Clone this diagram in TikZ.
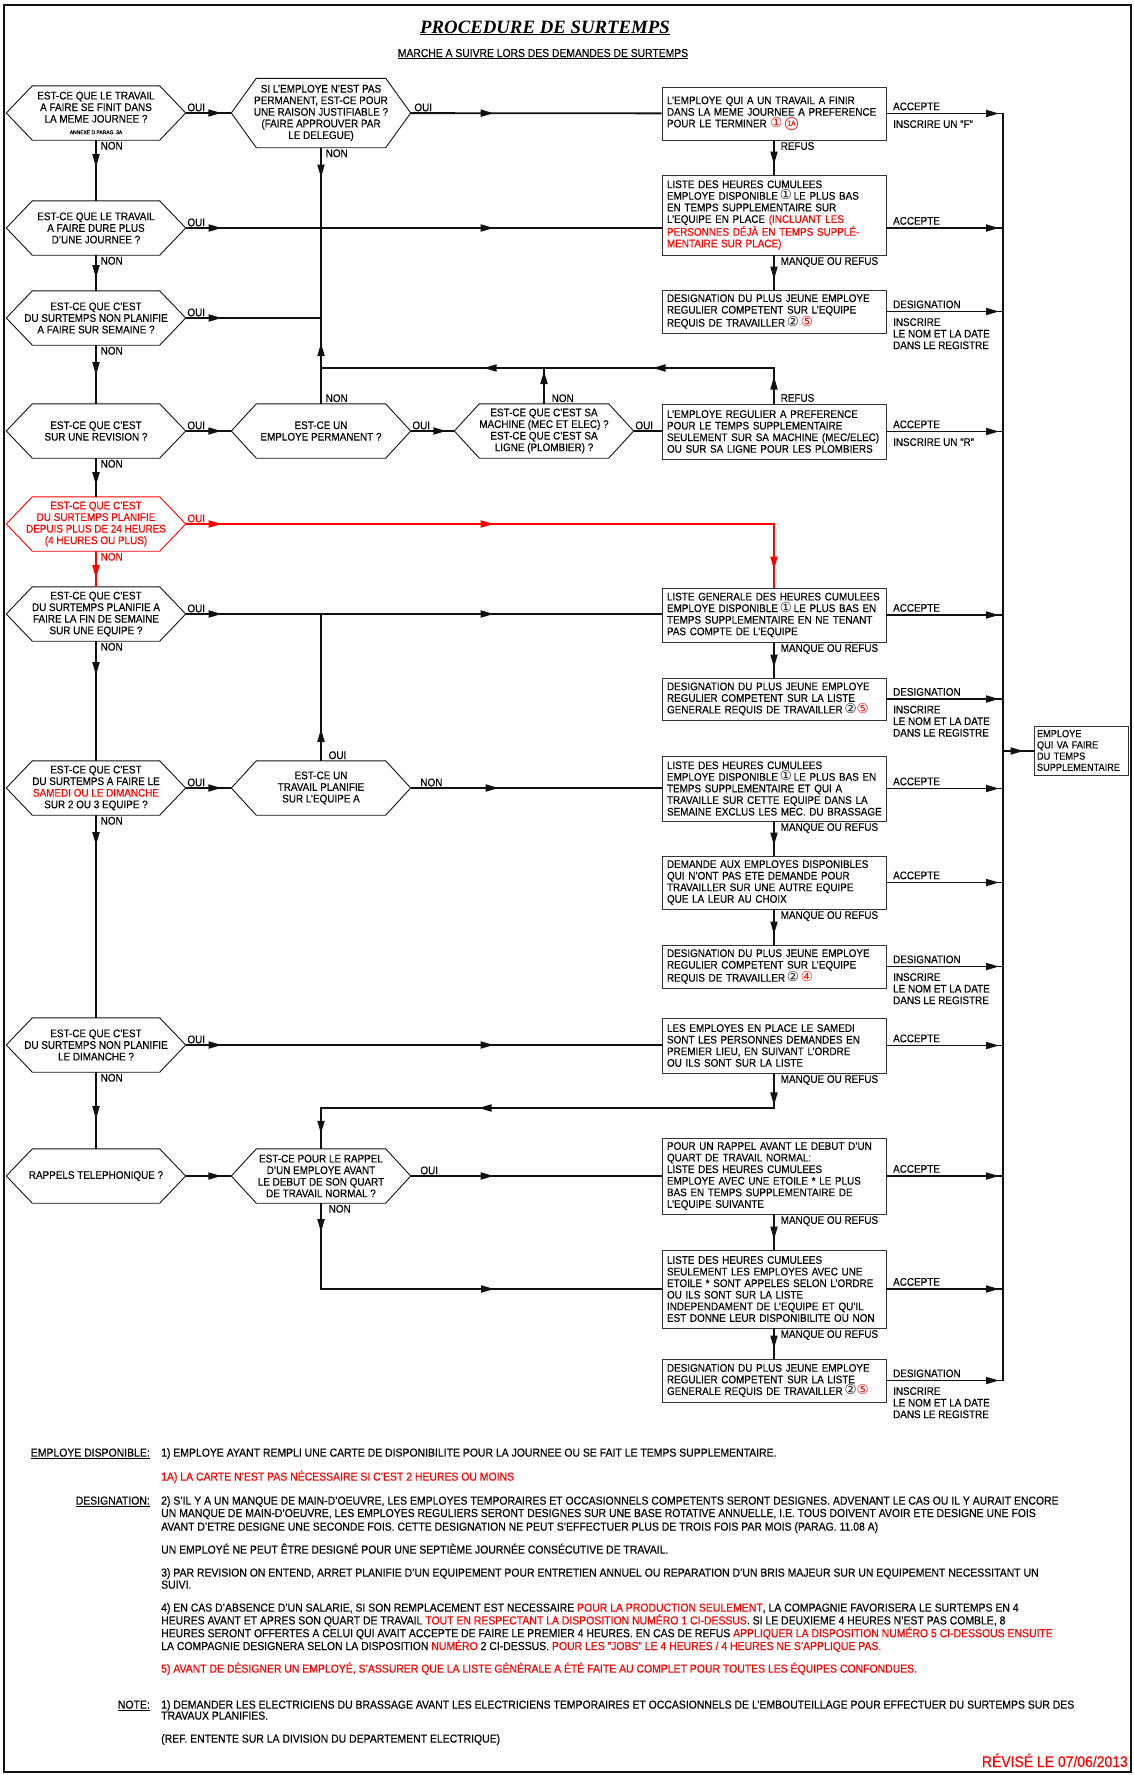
\documentclass[tikz,border=0pt]{standalone}
\usepackage{fontspec}
\setmainfont[FakeStretch=0.9,FakeBold=0.3]{Liberation Sans}
\newfontfamily\titleserif{Liberation Serif}
\newfontfamily\symfont{DejaVu Sans}
\usepackage{tikz}
\usetikzlibrary{arrows.meta,decorations.markings}
\definecolor{ink}{HTML}{111111}
\definecolor{graphite}{HTML}{333333}
\definecolor{alert}{HTML}{FF0000}
\newcommand{\cadsize}{\fontsize{11}{11.6}\selectfont}
\newcommand{\notesize}{\fontsize{11.6}{12.6}\selectfont}
\newcommand{\cnum}[2]{{\color{#1}\symfont\fontsize{13.5}{12}\selectfont #2}}
\newcommand{\cnumA}{{\color{alert}\ooalign{\hfil\raisebox{1.8pt}{\fontsize{7}{7}\selectfont 1A}\hfil\crcr{\symfont\fontsize{13}{12}\selectfont ◯}}}}
\newcommand{\hexa}[3][ink]{\draw[hexline,#1] (#2.west) -- ([xshift=#3]#2.north west) -- ([xshift=-#3]#2.north east) -- (#2.east) -- ([xshift=-#3]#2.south east) -- ([xshift=#3]#2.south west) -- cycle;}

\begin{document}
\begin{tikzpicture}[x=1pt,y=-1pt,
    quest/.style={minimum width=179pt,minimum height=54pt,inner sep=0pt,align=center,font=\cadsize},
    hexline/.style={line width=0.9pt},
    box/.style={draw=graphite,line width=0.9pt,minimum width=224pt,text width=214pt,inner xsep=5pt,inner ysep=1pt,align=left,font=\cadsize},
    lbl/.style={font=\cadsize,inner sep=1.5pt},
    note/.style={font=\notesize,inner sep=0pt,anchor=base west},
    head/.style={font=\notesize,inner sep=0pt,anchor=base east},
    arr/.style={ink,line width=1.8pt},
    tip at/.style={postaction={decorate,decoration={markings,mark=at position #1 with {\arrow{Triangle[length=13pt,width=7pt]}}}}}]
  \useasboundingbox (0,0) rectangle (1134,1775);
  \draw[ink,line width=2.6pt] (4,5) rectangle (1131,1772);

  \node[anchor=base] (title) at (545,33) {\titleserif\bfseries\itshape\fontsize{18.8}{20}\selectfont\underline{PROCEDURE DE SURTEMPS}};
  \node[anchor=base] (sub) at (543,57) {\fontsize{11.5}{12}\selectfont\underline{MARCHE A SUIVRE LORS DES DEMANDES DE SURTEMPS}};

  \node[quest] (d1) at (96,113) {EST-CE QUE LE TRAVAIL\\A FAIRE SE FINIT DANS\\LA MEME JOURNEE ?\\{\fontsize{5.5}{7}\selectfont ANNEXE D PARAG. 3A}};
  \node[quest] (d2) at (96,228) {EST-CE QUE LE TRAVAIL\\A FAIRE DURE PLUS\\D'UNE JOURNEE ?};
  \node[quest] (d3) at (96,318) {EST-CE QUE C'EST\\DU SURTEMPS NON PLANIFIE\\A FAIRE SUR SEMAINE ?};
  \node[quest] (d4) at (96,431) {EST-CE QUE C'EST\\SUR UNE REVISION ?};
  \node[quest,text=alert] (d5) at (96,524) {EST-CE QUE C'EST\\DU SURTEMPS PLANIFIE\\DEPUIS PLUS DE 24 HEURES\\(4 HEURES OU PLUS)};
  \node[quest] (d6) at (96,614) {EST-CE QUE C'EST\\DU SURTEMPS PLANIFIE A\\FAIRE LA FIN DE SEMAINE\\SUR UNE EQUIPE ?};
  \node[quest] (d7) at (96,788) {EST-CE QUE C'EST\\DU SURTEMPS A FAIRE LE\\\textcolor{alert}{SAMEDI OU LE DIMANCHE}\\SUR 2 OU 3 EQUIPE ?};
  \node[quest] (d8) at (96,1045) {EST-CE QUE C'EST\\DU SURTEMPS NON PLANIFIE\\LE DIMANCHE ?};
  \node[quest] (d9) at (96,1176) {RAPPELS TELEPHONIQUE ?};
  \node[quest,minimum height=69pt] (c1) at (321,113) {SI L'EMPLOYE N'EST PAS\\PERMANENT, EST-CE POUR\\UNE RAISON JUSTIFIABLE ?\\(FAIRE APPROUVER PAR\\LE DELEGUE)};
  \node[quest] (c2) at (321,431) {EST-CE UN\\EMPLOYE PERMANENT ?};
  \node[quest] (c3) at (321,788) {EST-CE UN\\TRAVAIL PLANIFIE\\SUR L'EQUIPE A};
  \node[quest] (c4) at (321,1176) {EST-CE POUR LE RAPPEL\\D'UN EMPLOYE AVANT\\LE DEBUT DE SON QUART\\DE TRAVAIL NORMAL ?};
  \node[quest] (mach) at (544,431) {EST-CE QUE C'EST SA\\MACHINE (MEC ET ELEC) ?\\EST-CE QUE C'EST SA\\LIGNE (PLOMBIER) ?};
  \hexa{d1}{26pt}
  \hexa{d2}{26pt}
  \hexa{d3}{26pt}
  \hexa{d4}{26pt}
  \hexa[alert]{d5}{26pt}
  \hexa{d6}{26pt}
  \hexa{d7}{26pt}
  \hexa{d8}{26pt}
  \hexa{d9}{26pt}
  \hexa{c1}{25pt}
  \hexa{c2}{25pt}
  \hexa{c3}{25pt}
  \hexa{c4}{25pt}
  \hexa{mach}{25pt}

  \node[box,minimum height=53pt] (b1) at (774,113.5) {L'EMPLOYE QUI A UN TRAVAIL A FINIR\\DANS LA MEME JOURNEE A PREFERENCE\\POUR LE TERMINER \cnum{alert}{①}\,\cnumA};
  \node[box,minimum height=80pt] (b2) at (774,215) {LISTE DES HEURES CUMULEES\\EMPLOYE DISPONIBLE\,\cnum{ink}{①}\,LE PLUS BAS\\EN TEMPS SUPPLEMENTAIRE SUR\\L'EQUIPE EN PLACE \textcolor{alert}{(INCLUANT LES}\\\textcolor{alert}{PERSONNES DÉJÀ EN TEMPS SUPPLÉ-}\\\textcolor{alert}{MENTAIRE SUR PLACE)}};
  \node[box,minimum height=43pt] (b3) at (774,311.5) {DESIGNATION DU PLUS JEUNE EMPLOYE\\REGULIER COMPETENT SUR L'EQUIPE\\REQUIS DE TRAVAILLER\,\cnum{ink}{②}\,\cnum{alert}{⑤}};
  \node[box,minimum height=55pt] (b4) at (774,431.5) {L'EMPLOYE REGULIER A PREFERENCE\\POUR LE TEMPS SUPPLEMENTAIRE\\SEULEMENT SUR SA MACHINE (MEC/ELEC)\\OU SUR SA LIGNE POUR LES PLOMBIERS};
  \node[box,minimum height=54pt] (b5) at (774,615) {LISTE GENERALE DES HEURES CUMULEES\\EMPLOYE DISPONIBLE\,\cnum{ink}{①}\,LE PLUS BAS EN\\TEMPS SUPPLEMENTAIRE EN NE TENANT\\PAS COMPTE DE L'EQUIPE};
  \node[box,minimum height=42pt] (b6) at (774,699) {DESIGNATION DU PLUS JEUNE EMPLOYE\\REGULIER COMPETENT SUR LA LISTE\\GENERALE REQUIS DE TRAVAILLER\,\cnum{ink}{②}\cnum{alert}{⑤}};
  \node[box,minimum height=65pt] (b7) at (774,788.5) {LISTE DES HEURES CUMULEES\\EMPLOYE DISPONIBLE\,\cnum{ink}{①}\,LE PLUS BAS EN\\TEMPS SUPPLEMENTAIRE ET QUI A\\TRAVAILLE SUR CETTE EQUIPE DANS LA\\\mbox{SEMAINE EXCLUS LES MEC. DU BRASSAGE}};
  \node[box,minimum height=53pt] (b8) at (774,882.5) {DEMANDE AUX EMPLOYES DISPONIBLES\\QUI N'ONT PAS ETE DEMANDE POUR\\TRAVAILLER SUR UNE AUTRE EQUIPE\\QUE LA LEUR AU CHOIX};
  \node[box,minimum height=43pt] (b9) at (774,966.5) {DESIGNATION DU PLUS JEUNE EMPLOYE\\REGULIER COMPETENT SUR L'EQUIPE\\REQUIS DE TRAVAILLER\,\cnum{ink}{②}\,\cnum{alert}{④}};
  \node[box,minimum height=55pt] (b10) at (774,1045.5) {LES EMPLOYES EN PLACE LE SAMEDI\\SONT LES PERSONNES DEMANDES EN\\PREMIER LIEU, EN SUIVANT L'ORDRE\\OU ILS SONT SUR LA LISTE};
  \node[box,minimum height=76pt] (b11) at (774,1176) {POUR UN RAPPEL AVANT LE DEBUT D'UN\\QUART DE TRAVAIL NORMAL:\\LISTE DES HEURES CUMULEES\\EMPLOYE AVEC UNE ETOILE * LE PLUS\\BAS EN TEMPS SUPPLEMENTAIRE DE\\L'EQUIPE SUIVANTE};
  \node[box,minimum height=78pt] (b12) at (774,1289) {LISTE DES HEURES CUMULEES\\SEULEMENT LES EMPLOYES AVEC UNE\\ETOILE * SONT APPELES SELON L'ORDRE\\OU ILS SONT SUR LA LISTE\\INDEPENDAMENT DE L'EQUIPE ET QU'IL\\EST DONNE LEUR DISPONIBILITE OU NON};
  \node[box,minimum height=43pt] (b13) at (774,1380.5) {DESIGNATION DU PLUS JEUNE EMPLOYE\\REGULIER COMPETENT SUR LA LISTE\\GENERALE REQUIS DE TRAVAILLER\,\cnum{ink}{②}\cnum{alert}{⑤}};
  \node[box,minimum width=94pt,text width=88pt,inner xsep=3pt,minimum height=49pt,font=\fontsize{10.2}{11.2}\selectfont] (fin) at (1081,750.5) {EMPLOYE\\QUI VA FAIRE\\DU TEMPS\\SUPPLEMENTAIRE};

  \coordinate (loopL) at (321,368);
  \coordinate (loopR) at (774,368);
  \coordinate (jr) at (321,1108);
  \coordinate (ktop) at (1003,113);
  \coordinate (kbot) at (1003,1380.5);
  \coordinate (kout) at (1003,751);

  \draw[arr,tip at=27pt] (d1) -- (d2);
  \draw[arr,tip at=23pt] (d2) -- (d3);
  \draw[arr,tip at=30pt] (d3) -- (d4);
  \draw[arr,tip at=27pt] (d4) -- (d5);
  \draw[arr,alert,tip at=27pt] (d5) -- (d6);
  \draw[arr,tip at=34pt] (d6) -- (d7);
  \draw[arr,tip at=30pt] (d7) -- (d8);
  \draw[arr,tip at=47pt] (d8) -- (d9);

  \draw[arr,tip at=-10pt] (d1) -- (c1);
  \draw[arr,tip at=83pt] (c1) -- (b1);
  \draw[arr,tip at=36pt,tip at=308pt] (d2) -- (d2 -| b2.west);
  \draw[arr,tip at=36pt] (d3) -- (d3 -| c1);
  \draw[arr,tip at=30pt] (c1) -- (loopL);
  \draw[arr,tip at=27pt,tip at=157pt,tip at=326pt,tip at=-25pt] (b4) -- (loopR) -- (loopL) -- (d3 -| c1);
  \draw[arr,tip at=-3pt] (mach) -- (mach |- loopL);
  \draw[arr] (c2) -- (c2 |- loopL);
  \draw[arr,tip at=-10pt] (d4) -- (c2);
  \draw[arr,tip at=-8pt] (c2) -- (mach);
  \draw[arr] (mach) -- (mach -| b4.west);
  \draw[arr,alert,tip at=36pt,tip at=308pt,tip at=-18pt] (d5) -- (d5 -| b5) -- (b5);
  \draw[arr,tip at=36pt,tip at=308pt] (d6) -- (d6 -| b5.west);
  \draw[arr,tip at=32pt] (c3) -- (c3 |- d6);
  \draw[arr,tip at=-10pt] (d7) -- (c3);
  \draw[arr,tip at=88pt] (c3) -- (c3 -| b7.west);
  \draw[arr,tip at=36pt,tip at=308pt] (d8) -- (d8 -| b10.west);
  \draw[arr,tip at=-10pt] (d9) -- (c4);
  \draw[arr,tip at=83pt] (c4) -- (c4 -| b11.west);
  \draw[arr,tip at=29pt,tip at=259pt] (c4) -- (c4 |- b12) -- (b12);
  \draw[arr,tip at=32pt,tip at=330pt,tip at=-15pt] (b10) -- (b10 |- jr) -- (jr) -- (c4);

  \draw[arr,tip at=-10pt] (b1) -- (b2);
  \draw[arr,tip at=-10pt] (b2) -- (b3);
  \draw[arr,tip at=-10pt] (b5) -- (b6);
  \draw[arr,tip at=-10pt] (b7) -- (b8);
  \draw[arr,tip at=-10pt] (b8) -- (b9);
  \draw[arr,tip at=-10pt] (b11) -- (b12);
  \draw[arr,tip at=-10pt] (b12) -- (b13);

  \draw[ink,line width=2.2pt] (ktop) -- (kbot);
  \draw[arr,tip at=-4pt] (b1) -- (b1 -| ktop);
  \draw[arr,tip at=-4pt] (b2.east |- d2) -- (d2 -| ktop);
  \draw[arr,tip at=-4pt] (b3) -- (b3 -| ktop);
  \draw[arr,tip at=-4pt] (b4) -- (b4 -| ktop);
  \draw[arr,tip at=-4pt] (b5) -- (b5 -| ktop);
  \draw[arr,tip at=-4pt] (b6) -- (b6 -| ktop);
  \draw[arr,tip at=-4pt] (b7) -- (b7 -| ktop);
  \draw[arr,tip at=-4pt] (b8) -- (b8 -| ktop);
  \draw[arr,tip at=-4pt] (b9) -- (b9 -| ktop);
  \draw[arr,tip at=-4pt] (b10) -- (b10 -| ktop);
  \draw[arr,tip at=-4pt] (b11) -- (b11 -| ktop);
  \draw[arr,tip at=-4pt] (b12) -- (b12 -| ktop);
  \draw[arr,tip at=-4pt] (b13) -- (b13 -| ktop);
  \draw[arr,tip at=-10pt] (kout) -- (kout -| fin.west);

  \node[lbl,anchor=south west] (o1) at (d1.east) {OUI};
  \node[lbl,anchor=north west] (n1) at ([xshift=3pt]d1.south) {NON};
  \node[lbl,anchor=south west] (o2) at (d2.east) {OUI};
  \node[lbl,anchor=north west] (n2) at ([xshift=3pt]d2.south) {NON};
  \node[lbl,anchor=south west] (o3) at (d3.east) {OUI};
  \node[lbl,anchor=north west] (n3) at ([xshift=3pt]d3.south) {NON};
  \node[lbl,anchor=south west] (o4) at (d4.east) {OUI};
  \node[lbl,anchor=north west] (n4) at ([xshift=3pt]d4.south) {NON};
  \node[lbl,anchor=south west,text=alert] (o5) at (d5.east) {OUI};
  \node[lbl,anchor=north west,text=alert] (n5) at ([xshift=3pt]d5.south) {NON};
  \node[lbl,anchor=south west] (o6) at (d6.east) {OUI};
  \node[lbl,anchor=north west] (n6) at ([xshift=3pt]d6.south) {NON};
  \node[lbl,anchor=south west] (o7) at (d7.east) {OUI};
  \node[lbl,anchor=north west] (n7) at ([xshift=3pt]d7.south) {NON};
  \node[lbl,anchor=south west] (o8) at (d8.east) {OUI};
  \node[lbl,anchor=north west] (n8) at ([xshift=3pt]d8.south) {NON};
  \node[lbl,anchor=south west] (oc1) at ([xshift=2pt]c1.east) {OUI};
  \node[lbl,anchor=north west] (nc1) at ([xshift=3pt]c1.south) {NON};
  \node[lbl,anchor=south west] (oc2) at (c2.east) {OUI};
  \node[lbl,anchor=south west] (nc2) at ([xshift=3pt]c2.north) {NON};
  \node[lbl,anchor=south west] (om) at (mach.east) {OUI};
  \node[lbl,anchor=south west] (nm) at ([xshift=6pt]mach.north) {NON};
  \node[lbl,anchor=south west] (oc3) at ([xshift=6pt]c3.north) {OUI};
  \node[lbl,anchor=south west] (nc3) at ([xshift=8pt]c3.east) {NON};
  \node[lbl,anchor=south west] (oc4) at ([xshift=8pt]c4.east) {OUI};
  \node[lbl,anchor=north west] (nc4) at ([xshift=6pt]c4.south) {NON};

  \node[lbl,anchor=north west] (rf1) at ([xshift=5pt]b1.south) {REFUS};
  \node[lbl,anchor=north west] (rf2) at ([xshift=5pt]b2.south) {MANQUE OU REFUS};
  \node[lbl,anchor=south west] (rf4) at ([xshift=5pt]b4.north) {REFUS};
  \node[lbl,anchor=north west] (rf5) at ([xshift=5pt]b5.south) {MANQUE OU REFUS};
  \node[lbl,anchor=north west] (rf7) at ([xshift=5pt]b7.south) {MANQUE OU REFUS};
  \node[lbl,anchor=north west] (rf8) at ([xshift=5pt]b8.south) {MANQUE OU REFUS};
  \node[lbl,anchor=north west] (rf10) at ([xshift=5pt]b10.south) {MANQUE OU REFUS};
  \node[lbl,anchor=north west] (rf11) at ([xshift=5pt]b11.south) {MANQUE OU REFUS};
  \node[lbl,anchor=north west] (rf12) at ([xshift=5pt]b12.south) {MANQUE OU REFUS};

  \node[lbl,anchor=south west] (a1) at ([xshift=5pt,yshift=1.5pt]b1.east) {ACCEPTE};
  \node[lbl,anchor=north west] (i1) at ([xshift=5pt,yshift=-5pt]b1.east) {INSCRIRE UN "F"};
  \node[lbl,anchor=south west] (a2) at ([xshift=5pt,yshift=1.5pt]b2.east |- d2) {ACCEPTE};
  \node[lbl,anchor=south west] (a3) at ([xshift=5pt,yshift=1.5pt]b3.east) {DESIGNATION};
  \node[lbl,anchor=north west,align=left] (i3) at ([xshift=5pt,yshift=-5pt]b3.east) {INSCRIRE\\LE NOM ET LA DATE\\DANS LE REGISTRE};
  \node[lbl,anchor=south west] (a4) at ([xshift=5pt,yshift=1.5pt]b4.east) {ACCEPTE};
  \node[lbl,anchor=north west] (i4) at ([xshift=5pt,yshift=-5pt]b4.east) {INSCRIRE UN "R"};
  \node[lbl,anchor=south west] (a5) at ([xshift=5pt,yshift=1.5pt]b5.east) {ACCEPTE};
  \node[lbl,anchor=south west] (a6) at ([xshift=5pt,yshift=1.5pt]b6.east) {DESIGNATION};
  \node[lbl,anchor=north west,align=left] (i6) at ([xshift=5pt,yshift=-5pt]b6.east) {INSCRIRE\\LE NOM ET LA DATE\\DANS LE REGISTRE};
  \node[lbl,anchor=south west] (a7) at ([xshift=5pt,yshift=1.5pt]b7.east) {ACCEPTE};
  \node[lbl,anchor=south west] (a8) at ([xshift=5pt,yshift=1.5pt]b8.east) {ACCEPTE};
  \node[lbl,anchor=south west] (a9) at ([xshift=5pt,yshift=1.5pt]b9.east) {DESIGNATION};
  \node[lbl,anchor=north west,align=left] (i9) at ([xshift=5pt,yshift=-5pt]b9.east) {INSCRIRE\\LE NOM ET LA DATE\\DANS LE REGISTRE};
  \node[lbl,anchor=south west] (a10) at ([xshift=5pt,yshift=1.5pt]b10.east) {ACCEPTE};
  \node[lbl,anchor=south west] (a11) at ([xshift=5pt,yshift=1.5pt]b11.east) {ACCEPTE};
  \node[lbl,anchor=south west] (a12) at ([xshift=5pt,yshift=1.5pt]b12.east) {ACCEPTE};
  \node[lbl,anchor=south west] (a13) at ([xshift=5pt,yshift=1.5pt]b13.east) {DESIGNATION};
  \node[lbl,anchor=north west,align=left] (i13) at ([xshift=5pt,yshift=-5pt]b13.east) {INSCRIRE\\LE NOM ET LA DATE\\DANS LE REGISTRE};

  \node[head] (h1) at (150,1456.6) {\underline{EMPLOYE DISPONIBLE:}};
  \node[head] (h2) at (150,1504.6) {\underline{DESIGNATION:}};
  \node[head] (h3) at (150,1708.6) {\underline{NOTE:}};
  \node[note] (t1) at (161,1456.6) {1) EMPLOYE AYANT REMPLI UNE CARTE DE DISPONIBILITE POUR LA JOURNEE OU SE FAIT LE TEMPS SUPPLEMENTAIRE.};
  \node[note,text=alert] (t2) at (161,1480.6) {1A) LA CARTE N'EST PAS NÉCESSAIRE SI C'EST 2 HEURES OU MOINS};
  \node[note] (t3) at (161,1504.6) {2) S'IL Y A UN MANQUE DE MAIN-D'OEUVRE, LES EMPLOYES TEMPORAIRES ET OCCASIONNELS COMPETENTS SERONT DESIGNES. ADVENANT LE CAS OU IL Y AURAIT ENCORE};
  \node[note] (t4) at (161,1517) {UN MANQUE DE MAIN-D'OEUVRE, LES EMPLOYES REGULIERS SERONT DESIGNES SUR UNE BASE ROTATIVE ANNUELLE, I.E. TOUS DOIVENT AVOIR ETE DESIGNE UNE FOIS};
  \node[note] (t5) at (161,1530.6) {AVANT D'ETRE DESIGNE UNE SECONDE FOIS. CETTE DESIGNATION NE PEUT S'EFFECTUER PLUS DE TROIS FOIS PAR MOIS (PARAG. 11.08 A)};
  \node[note] (t6) at (161,1553.6) {UN EMPLOYÉ NE PEUT ÊTRE DESIGNÉ POUR UNE SEPTIÈME JOURNÉE CONSÉCUTIVE DE TRAVAIL.};
  \node[note] (t7) at (161,1576.6) {3) PAR REVISION ON ENTEND, ARRET PLANIFIE D'UN EQUIPEMENT POUR ENTRETIEN ANNUEL OU REPARATION D'UN BRIS MAJEUR SUR UN EQUIPEMENT NECESSITANT UN};
  \node[note] (t8) at (161,1588.6) {SUIVI.};
  \node[note] (t9) at (161,1611.6) {4) EN CAS D'ABSENCE D'UN SALARIE, SI SON REMPLACEMENT EST NECESSAIRE \textcolor{alert}{POUR LA PRODUCTION SEULEMENT}, LA COMPAGNIE FAVORISERA LE SURTEMPS EN 4};
  \node[note] (t10) at (161,1624.4) {HEURES AVANT ET APRES SON QUART DE TRAVAIL \textcolor{alert}{TOUT EN RESPECTANT LA DISPOSITION NUMÉRO 1 CI-DESSUS}. SI LE DEUXIEME 4 HEURES N'EST PAS COMBLE, 8};
  \node[note] (t11) at (161,1637.2) {HEURES SERONT OFFERTES A CELUI QUI AVAIT ACCEPTE DE FAIRE LE PREMIER 4 HEURES. EN CAS DE REFUS \textcolor{alert}{APPLIQUER LA DISPOSITION NUMÉRO 5 CI-DESSOUS ENSUITE}};
  \node[note] (t12) at (161,1650) {LA COMPAGNIE DESIGNERA SELON LA DISPOSITION \textcolor{alert}{NUMÉRO} 2 CI-DESSUS. \textcolor{alert}{POUR LES "JOBS" LE 4 HEURES / 4 HEURES NE S'APPLIQUE PAS.}};
  \node[note,text=alert] (t13) at (161,1672.6) {5) AVANT DE DÉSIGNER UN EMPLOYÉ, S'ASSURER QUE LA LISTE GÉNÉRALE A ÉTÉ FAITE AU COMPLET POUR TOUTES LES ÉQUIPES CONFONDUES.};
  \node[note] (t14) at (161,1708.6) {1) DEMANDER LES ELECTRICIENS DU BRASSAGE AVANT LES ELECTRICIENS TEMPORAIRES ET OCCASIONNELS DE L'EMBOUTEILLAGE POUR EFFECTUER DU SURTEMPS SUR DES};
  \node[note] (t15) at (161,1719.6) {TRAVAUX PLANIFIES.};
  \node[note] (t16) at (161,1742.6) {(REF. ENTENTE SUR LA DIVISION DU DEPARTEMENT ELECTRIQUE)};
  \node[anchor=base east,inner sep=0pt,text=alert,font=\fontsize{15.5}{17}\selectfont] (rev) at (1128,1767) {RÉVISÉ LE 07/06/2013};
\end{tikzpicture}
\end{document}
